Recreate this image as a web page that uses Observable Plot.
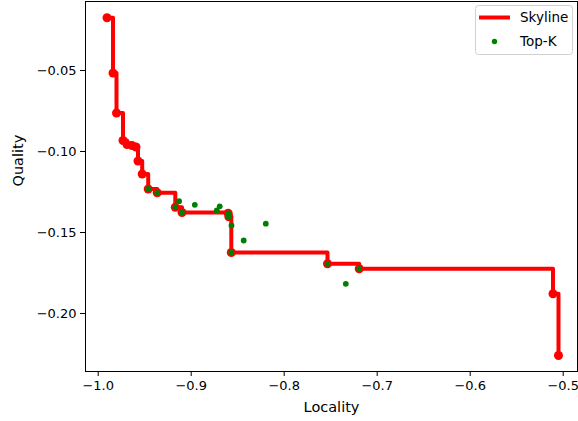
<!DOCTYPE html>
<html>
<head>
<meta charset="utf-8">
<script src="https://cdn.jsdelivr.net/npm/d3@7"></script>
<script src="https://cdn.jsdelivr.net/npm/@observablehq/plot@0.6"></script>
<style>
  html, body { margin: 0; padding: 0; background: white; }
  #chart { position: relative; width: 578px; height: 421px; }
</style>
</head>
<body>
<div id="chart"></div>
<script>
// Skyline points (Locality, Quality)
const skylineLocality = [-0.99054, -0.98409, -0.98032, -0.97333, -0.96903, -0.96366, -0.95935, -0.95720, -0.95269,
  -0.94624, -0.93656, -0.91710, -0.90989, -0.86022, -0.85957, -0.85688, -0.75344, -0.71935, -0.51097, -0.50505];
const skylineQuality = [-0.01741, -0.05154, -0.07623, -0.09321, -0.09568, -0.09630, -0.09722, -0.10586, -0.11389,
  -0.12315, -0.12549, -0.13438, -0.13765, -0.13815, -0.14025, -0.16235, -0.16932, -0.17241, -0.18784, -0.22593];

// Top-K points (Locality, Quality)
const topKLocality = [-0.94624, -0.93656, -0.91710, -0.90989, -0.86022, -0.85957, -0.85688, -0.75344, -0.71935,
  -0.91301, -0.89613, -0.87247, -0.86935, -0.85667, -0.84355, -0.81978, -0.73376];
const topKQuality = [-0.12315, -0.12549, -0.13438, -0.13765, -0.13815, -0.14025, -0.16235, -0.16932, -0.17241,
  -0.13068, -0.13290, -0.13642, -0.13383, -0.14568, -0.15494, -0.14457, -0.18167];

const xTicks = [-1.0, -0.9, -0.8, -0.7, -0.6, -0.5];
const yTicks = [-0.05, -0.10, -0.15, -0.20];
const xLabel = "Locality";
const yLabel = "Quality";
const seriesNames = ["Skyline", "Top-K"];

const skyline = skylineLocality.map((x, i) => ({x, y: skylineQuality[i]}));
const topK = topKLocality.map((x, i) => ({x, y: topKQuality[i]}));

const font = "DejaVu Sans, sans-serif";

const plot = Plot.plot({
  width: 578,
  height: 421,
  marginLeft: 85,
  marginRight: 1,
  marginTop: 1,
  marginBottom: 50,
  style: {fontFamily: font, fontSize: "13px", background: "white", color: "black"},
  x: {domain: [-1.01366, -0.48462]},
  y: {domain: [-0.23580, -0.00741]},
  marks: [
    Plot.line(skyline, {x: "x", y: "y", curve: "step-after", stroke: "#ff0000", strokeWidth: 4, strokeLinejoin: "round"}),
    Plot.dot(skyline, {x: "x", y: "y", r: 4.5, fill: "#ff0000", stroke: "none"}),
    Plot.dot(topK, {x: "x", y: "y", r: 2.9, fill: "#008000", stroke: "none"}),
    Plot.frame({stroke: "black", strokeWidth: 1, strokeOpacity: 1}),
    Plot.axisX({ticks: xTicks, tickFormat: ".1f", tickSize: 5, tickPadding: 4, label: null, fontSize: 13, strokeOpacity: 1}),
    Plot.axisY({ticks: yTicks, tickFormat: ".2f", tickSize: 5, tickPadding: 4, label: null, fontSize: 13, strokeOpacity: 1}),
    Plot.text([xLabel], {text: d => d, frameAnchor: "bottom", dy: 36, fontSize: 14.5, lineAnchor: "middle", fill: "black"}),
    Plot.text([yLabel], {text: d => d, frameAnchor: "left", dx: -67, rotate: -90, fontSize: 14.5, lineAnchor: "middle", fill: "black"})
  ]
});

document.getElementById("chart").appendChild(plot);

// Legend (top-right, inside the axes)
const svg = d3.select(plot);
const lg = svg.append("g").attr("font-family", font).attr("font-size", 13.5).attr("text-anchor", "start");
lg.append("rect").attr("x", 475.5).attr("y", 5.5).attr("width", 97).attr("height", 49).attr("rx", 3)
  .attr("fill", "white").attr("fill-opacity", 0.8).attr("stroke", "#d0d0d0");
lg.append("line").attr("x1", 479).attr("x2", 510).attr("y1", 17.5).attr("y2", 17.5)
  .attr("stroke", "#ff0000").attr("stroke-width", 4);
lg.append("circle").attr("cx", 494.5).attr("cy", 41.5).attr("r", 2.7).attr("fill", "#008000");
lg.append("text").attr("x", 520).attr("y", 17.5).attr("dy", "0.35em").attr("text-anchor", "start").text(seriesNames[0]);
lg.append("text").attr("x", 520).attr("y", 41.5).attr("dy", "0.35em").attr("text-anchor", "start").text(seriesNames[1]);
</script>
</body>
</html>
